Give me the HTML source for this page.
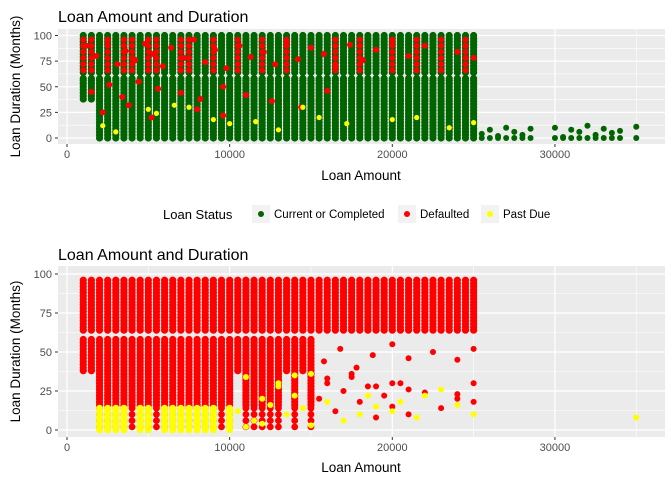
<!DOCTYPE html>
<html><head><meta charset="utf-8"><style>
body{margin:0;background:#fff;}
svg{display:block;font-family:"Liberation Sans",Arial,sans-serif;}
</style></head><body>
<svg id="c" width="672" height="480"></svg>
<script>
// ---- data ----
const amountsWide = [1000,1500,2000,2500,3000,3500,4000,4500,5000,5500,6000,6500,7000,7500,8000,8500,9000,9500,10000,10500,11000,11500,12000,12500,13000,13500,14000,14500,15000,15500,16000,16500,17000,17500,18000,18500,19000,19500,20000,20500,21000,21500,22000,22500,23000,23500,24000,24500,25000];
const amountsFrom2k = [2000,2500,3000,3500,4000,4500,5000,5500,6000,6500,7000,7500,8000,8500,9000,9500,10000,10500,11000,11500,12000,12500,13000,13500,14000,14500,15000,15500,16000,16500,17000,17500,18000,18500,19000,19500,20000,20500,21000,21500,22000,22500,23000,23500,24000,24500,25000];
const amountsMid = [1000,1500,2000,2500,3000,3500,4000,4500,5000,5500,6000,6500,7000,7500,8000,8500,9000,9500,10000,10500,11000,11500,12000,12500,13000,13500,14000,14500,15000];
const amountsLowRed = [2000,2500,3000,3500,4000,4500,5000,5500,6000,6500,7000,7500,8000,8500,9000,9500,10000,11000,11500,12000,12500,13000,14000,15000];
const amountsLowYellow = [2000,2500,3000,3500,4500,5000,6000,6500,7000,7500,8000,8500,9000,10000];
const topRedCols = [1000,1500,2500,3500,4000,5000,5500,7000,7500,9000,10500,12000,13500,16500,18000,20000,21500,23000,24500];
const topRedRows = [66,72,78,84,90,96];
const durUpperTop = [64,67,70,73,76,79,82,85,88,91,94,97,100];
const durMidTop = [38,41,44,47,50,53,56,58];
const durLowTop = [0,3,6,9,12,15,18,21,24,27,30,33,36];
const durUpperBot = [64,66,68,70,72,74,76,78,80,82,84,86,88,90,92,94,96];
const durMidBot = [38,40,42,44,46,48,50,52,54,56,58];
const durLowBot = [16,18,20,22,24,26,28,30,32,34,36];
const durLowYellow = [0,2,4,6,8,10,12,14];
const tailAmounts = [25500,26000,26500,27000,27500,28000,28500,30000,30500,31000,31500,32000,32500,33000,33500,34000,35000];
const tailDurations = [4,8,2,10,6,3,9,10,1,8,6,12,3,9,5,7,11];
const tailZeros = [0,0,0,0,0,0,0,0,0,0,0,0,0,0,0,0,0];
const topRedAmt = [1200,1800,2500,3100,3600,4200,4800,5300,5900,6400,7200,7800,8500,9100,9800,10600,11300,12100,12800,13500,14200,15000,15800,16500,17400,18200,19000,20000,21000,22000,23000,24000,25000,1500,2600,3400,4400,5600,7000,8200,9600,11000,12600,14400,16000,2200,3800,5200,8000,9600];
const topRedDur = [90,80,95,72,85,76,92,82,70,88,78,96,74,86,68,90,79,84,72,94,77,88,82,70,91,76,86,95,80,90,72,84,78,45,52,40,55,48,44,38,50,42,36,30,46,25,32,20,28,22];
const topYelAmt = [2200,3000,5000,5500,6600,7500,9000,10000,11600,13000,14500,15500,17200,20000,21500,23500,25000];
const topYelDur = [12,6,28,24,32,30,18,14,16,8,30,20,14,18,20,10,15];
const botRedAmt = [15500,16000,16500,17000,17500,18000,18500,19000,19500,20000,20500,21000,22000,23000,24000,25000,15800,16800,17800,18800,20000,21000,22500,24000,25000,16000,17500,19000,20000,21000,24000,25000];
const botRedDur = [20,30,12,25,34,18,28,8,22,15,30,10,24,14,20,30,44,52,40,48,55,46,50,45,52,33,36,28,30,26,23,18];
const botYelAmt = [10500,11000,11500,12000,12500,13000,13500,14000,14500,15000,16000,17000,18000,18500,19000,20000,20500,21500,22000,23000,24000,25000,35000,11000,12000,13000,14000,15000];
const botYelDur = [12,34,6,20,16,30,10,22,14,36,18,6,10,22,15,12,18,8,22,26,16,10,8,2,4,28,35,3];
const xTicks = [0,10000,20000,30000];
const xMinor = [5000,15000,25000,35000];
const yTicks = [0,25,50,75,100];
const yMinor = [12.5,37.5,62.5,87.5];

const NS="http://www.w3.org/2000/svg";
const svg=document.getElementById('c');
function mk(t,a,p){const e=document.createElementNS(NS,t);for(const k in a)e.setAttribute(k,a[k]);(p||svg).appendChild(e);return e;}
const GREEN='#006400',RED='#ff0000',YEL='#ffff00';

function panel(py0,py1,yZero,yPerUnit,name){
  const X=v=>67+v*0.016265;
  const Y=v=>yZero-v*yPerUnit;
  const g=mk('g',{});
  
  
  const bg=mk('rect',{x:58,y:py0,width:607,height:py1-py0,fill:'#ebebeb'},g);
  
  
  xMinor.forEach(v=>mk('line',{x1:X(v),x2:X(v),y1:py0,y2:py1,stroke:'#fff','stroke-width':0.6},g));
  yMinor.forEach(v=>mk('line',{x1:58,x2:665,y1:Y(v),y2:Y(v),stroke:'#fff','stroke-width':0.6},g));
  xTicks.forEach(v=>{mk('line',{x1:X(v),x2:X(v),y1:py0,y2:py1,stroke:'#fff','stroke-width':1.2},g);
    mk('line',{x1:X(v),x2:X(v),y1:py1,y2:py1+3,stroke:'#333','stroke-width':1},g);
    const t=mk('text',{x:X(v),y:py1+14,'text-anchor':'middle','font-size':11,fill:'#4d4d4d'},g);t.textContent=v;
    });
  yTicks.forEach(v=>{mk('line',{x1:58,x2:665,y1:Y(v),y2:Y(v),stroke:'#fff','stroke-width':1.2},g);
    mk('line',{x1:55,x2:58,y1:Y(v),y2:Y(v),stroke:'#333','stroke-width':1},g);
    const t=mk('text',{x:52,y:Y(v)+4,'text-anchor':'end','font-size':11,fill:'#4d4d4d'},g);t.textContent=v;
    });
  const pts=mk('g',{},g);
  return {X,Y,pts,py1};
}
function grid(P,amts,durs,col,r){amts.forEach(a=>durs.forEach(d=>{const c=mk('circle',{cx:P.X(a),cy:P.Y(d),r:r,fill:col},P.pts);
  }));}
function scatter(P,amts,durs,col,r){amts.forEach((a,i)=>{const c=mk('circle',{cx:P.X(a),cy:P.Y(durs[i]),r:r,fill:col},P.pts);
  });}
function texts(title,ty,xty,py0,py1){
  let t=mk('text',{x:58,y:ty,'font-size':16,fill:'#000'});t.textContent=title;
  
  t=mk('text',{x:361,y:xty,'text-anchor':'middle','font-size':13.5,fill:'#000'});t.textContent='Loan Amount';
  
  const cy=(py0+py1)/2;
  t=mk('text',{x:20,y:cy,'text-anchor':'middle','font-size':13.5,fill:'#000',transform:`rotate(-90 20 ${cy})`});t.textContent='Loan Duration (Months)';
  
}

// top panel
const A=panel(29,144,138,1.025,'top-panel');
grid(A,amountsWide,durUpperTop,GREEN,3.6);
grid(A,amountsWide,durMidTop,GREEN,3.6);
grid(A,amountsFrom2k,durLowTop,GREEN,3.6);
scatter(A,tailAmounts,tailDurations,GREEN,3);
scatter(A,tailAmounts,tailZeros,GREEN,3);
grid(A,topRedCols,topRedRows,RED,3);
scatter(A,topRedAmt,topRedDur,RED,3);
scatter(A,topYelAmt,topYelDur,YEL,2.6);
texts('Loan Amount and Duration',22,180,29,144);

// bottom panel
const B=panel(266,437,430,1.56,'bottom-panel');
grid(B,amountsWide,durUpperBot,RED,3.6);
grid(B,amountsMid,durMidBot,RED,3.6);
grid(B,amountsLowRed,durLowBot,RED,3.6);
grid(B,amountsLowRed,[2,6,10,14],RED,3.4);
grid(B,amountsLowYellow,durLowYellow,YEL,3.4);
scatter(B,botRedAmt,botRedDur,RED,3);
scatter(B,botYelAmt,botYelDur,YEL,3);
texts('Loan Amount and Duration',260,472,266,437);

// legend
const lg=mk('g',{});


let lt=mk('text',{x:163,y:219,'font-size':13,fill:'#000'},lg);lt.textContent='Loan Status';
const legItems=[['Current or Completed',GREEN,252],['Defaulted',RED,398],['Past Due',YEL,481]];
legItems.forEach(([lab,col,x])=>{
  const e=mk('g',{},lg);
  
  
  mk('rect',{x:x,y:205,width:18,height:18,fill:'#f2f2f2'},e);
  mk('circle',{cx:x+9,cy:214,r:3,fill:col},e);
  const t=mk('text',{x:x+22,y:218,'font-size':11.5,fill:'#000'},e);t.textContent=lab;
});
</script>
</body></html>
